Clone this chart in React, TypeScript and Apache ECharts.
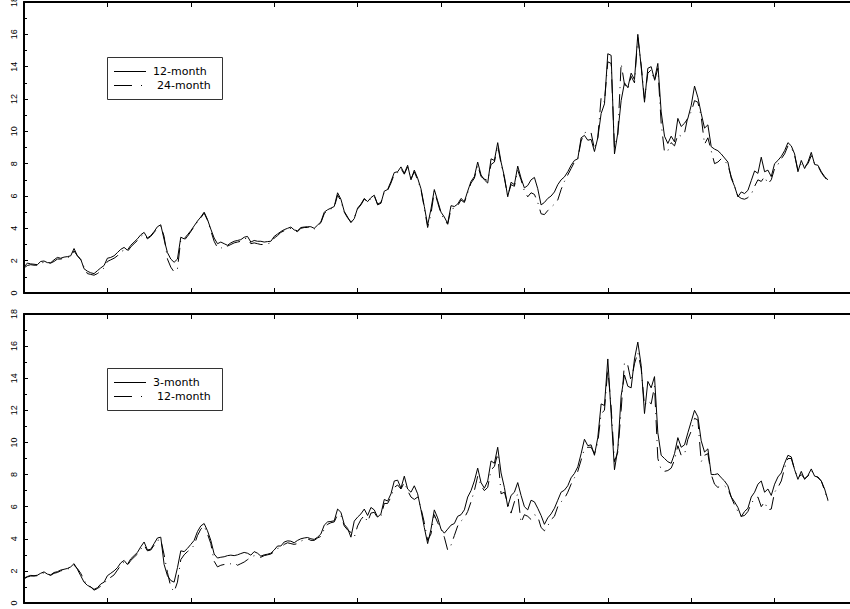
import { useEffect, useRef } from "react";
import * as echarts from "echarts";

// month index since start of sample (every 2nd month)
const months = Array.from({ length: 242 }, (_, i) => i * 2);

const topLegend = ["12-month", "24-month"];
const bottomLegend = ["3-month", "12-month"];

// Top panel: 12-month (solid)
const top12 = [
  1.6, 1.85, 1.8, 1.78, 1.75, 1.95, 1.98, 1.88, 1.87, 2.05,
  2.2, 2.15, 2.22, 2.25, 2.3, 2.75, 2.3, 2.1, 1.5, 1.35,
  1.25, 1.2, 1.38, 1.55, 1.7, 2.15, 2.2, 2.3, 2.5, 2.7,
  2.82, 2.65, 2.95, 3.15, 3.35, 3.6, 3.75, 3.4, 3.55, 3.8,
  4.1, 4.22, 3.3, 2.5, 2.1, 1.9, 2.1, 3.45, 3.35, 3.6,
  3.85, 4.15, 4.45, 4.7, 5.0, 4.55, 3.95, 3.4, 3.05, 3.15,
  3.05, 2.95, 3.1, 3.2, 3.25, 3.3, 3.45, 3.5, 3.15, 3.25,
  3.2, 3.2, 3.15, 3.18, 3.2, 3.5, 3.65, 3.8, 3.92, 4.0,
  4.08, 3.9, 3.85, 4.05, 4.08, 4.1, 4.1, 4.0, 4.2, 4.4,
  5.0, 5.15, 5.25, 5.35, 6.2, 5.8, 5.05, 4.7, 4.35, 4.6,
  5.25, 5.5, 5.85, 5.65, 5.9, 6.05, 5.45, 5.55, 6.3, 6.4,
  6.9, 7.45, 7.5, 7.8, 7.4, 7.9, 7.0, 7.6, 7.1, 6.45,
  5.35, 4.2, 5.2, 6.4, 5.7, 5.0, 4.7, 4.3, 5.4, 5.35,
  5.5, 5.85, 5.65, 6.3, 6.9, 7.2, 8.1, 7.3, 7.0, 6.8,
  8.3, 8.2, 9.3, 8.1, 7.2, 5.95, 6.85, 6.7, 7.85, 7.1,
  6.5, 6.65, 7.0, 7.15, 6.45, 5.45, 5.6, 5.85, 6.0, 6.25,
  6.7, 7.0, 7.18, 7.5, 7.9, 8.2, 8.3, 9.6, 9.75, 9.45,
  9.5, 8.75, 9.6, 11.1, 11.7, 14.8, 14.7, 8.6, 9.9, 11.9,
  13.0, 12.7, 13.6, 13.2, 16.0, 14.0, 11.8, 13.9, 14.0, 13.2,
  14.2, 11.2, 9.7, 9.25, 9.7, 9.35, 10.8, 10.3, 10.5, 10.8,
  11.6, 12.8, 12.1, 11.1, 10.2, 10.4, 9.05, 8.9, 8.8, 8.6,
  8.35, 8.1, 7.1, 6.6, 5.95, 6.25, 6.15, 6.35, 6.95, 7.55,
  7.4, 8.4, 7.5, 7.6, 7.2, 8.0, 8.2, 8.45, 8.8, 9.3,
  9.1, 8.6, 7.5, 8.2, 7.7, 8.1, 8.7, 7.95, 7.9, 7.5,
  7.2, 7.0,
];

// Top panel: 24-month (dash-dot)
const top24 = [
  1.55, 1.7, 1.75, 1.72, 1.72, 1.85, 1.9, 1.85, 1.85, 1.95,
  2.1, 2.1, 2.15, 2.2, 2.25, 2.6, 2.3, 2.05, 1.6, 1.2,
  1.15, 1.1, 1.2, 1.35, 1.55, 1.95, 2.05, 2.15, 2.3, 2.55,
  2.65, 2.55, 2.85, 3.05, 3.25, 3.5, 3.65, 3.35, 3.5, 3.75,
  4.0, 4.15, 3.5, 2.1, 1.6, 1.3, 1.5, 3.3, 3.25, 3.5,
  3.8, 4.1, 4.4, 4.65, 4.95, 4.5, 3.85, 3.2, 2.8, 2.75,
  2.95, 2.9, 3.0, 3.1, 3.15, 3.2, 3.35, 3.4, 3.05, 3.1,
  3.05, 3.0, 3.0, 3.05, 3.1, 3.4, 3.55, 3.75, 3.85, 3.95,
  4.0, 3.85, 3.8, 4.0, 4.05, 4.05, 4.05, 3.95, 4.15, 4.35,
  4.9, 5.1, 5.2, 5.3, 6.05, 5.7, 5.0, 4.65, 4.4, 4.65,
  5.2, 5.45, 5.8, 5.6, 5.85, 6.0, 5.5, 5.6, 6.25, 6.35,
  6.8, 7.35, 7.45, 7.7, 7.35, 7.8, 7.05, 7.5, 7.0, 6.4,
  5.25, 4.05, 4.9, 6.3, 5.6, 4.9, 4.55, 4.25, 5.2, 5.25,
  5.4, 5.75, 5.6, 6.2, 6.8, 7.1, 7.9, 7.2, 7.05, 6.95,
  7.95, 8.1, 9.1, 8.0, 7.1, 6.0, 6.7, 6.6, 7.6, 7.0,
  6.3, 5.95, 6.2, 6.1, 5.6, 4.9, 4.85, 5.1, 5.3, 5.5,
  5.75, 6.4, 6.9, 7.3, 7.7, 8.1, 8.3, 9.4, 9.9, 10.0,
  9.9, 8.9, 9.6, 12.1, 11.8, 14.3, 14.2, 9.0, 9.8, 14.2,
  12.9, 12.6, 13.4, 13.0, 15.8, 14.1, 12.0, 13.6, 13.8, 13.1,
  13.9, 10.5, 8.7, 8.8, 9.3, 9.1, 9.8, 9.7, 9.9, 10.9,
  11.2, 11.9, 11.8, 10.9, 9.2, 9.6, 8.8, 8.0, 8.1, 8.3,
  8.2, 7.9, 7.2, 6.6, 6.0, 5.85, 5.8, 5.9, 6.1, 6.6,
  7.0, 6.9, 7.2, 6.75, 7.0, 7.7, 7.95, 8.3, 8.6, 9.1,
  9.0, 8.5, 7.6, 8.0, 7.8, 8.0, 8.5, 8.0, 7.85, 7.45,
  7.15, 6.95,
];

// Bottom panel: 3-month (solid)
const bottom3 = [
  1.55, 1.65, 1.72, 1.7, 1.73, 1.85, 1.94, 1.8, 1.75, 1.9,
  1.95, 2.05, 2.1, 2.15, 2.25, 2.45, 2.1, 1.7, 1.3, 1.1,
  1.0, 0.85, 0.95, 1.18, 1.3, 1.7, 1.85, 2.0, 2.2, 2.5,
  2.65, 2.4, 2.75, 2.95, 3.15, 3.5, 3.8, 3.3, 3.35, 3.7,
  4.05, 4.1, 2.4, 1.7, 1.4, 1.3, 2.2, 3.25, 3.2, 3.4,
  3.65, 3.9, 4.45, 4.8, 4.95, 4.5, 3.9, 3.05, 2.8, 2.85,
  2.88, 2.95, 2.98, 2.95, 3.0, 3.08, 3.15, 3.1, 2.98, 3.2,
  3.1, 2.92, 3.0, 3.04, 3.1, 3.3, 3.55, 3.55, 3.8, 3.87,
  3.85, 3.75, 3.9, 4.0, 4.05, 4.08, 4.0, 3.96, 4.1, 4.3,
  4.85, 5.05, 5.08, 5.12, 5.85, 5.65, 4.9, 4.65, 4.1, 5.1,
  5.35, 5.55, 5.85, 5.45, 5.95, 5.8, 5.35, 5.55, 6.45, 6.35,
  6.8, 7.6, 7.65, 7.15, 7.9, 7.1, 6.9, 7.3, 6.8, 5.8,
  4.7, 3.7, 4.6, 5.8, 5.3, 4.6, 4.35, 4.6, 4.85, 4.95,
  5.4, 5.5, 5.8, 6.6, 7.0, 7.6, 8.4, 7.5, 7.15, 7.6,
  8.85, 8.7, 9.7, 8.1, 7.2, 6.0, 6.7, 6.9, 7.5, 6.7,
  6.0, 5.8, 6.4, 6.3, 5.9, 5.45, 4.9, 5.3, 5.55, 5.9,
  6.4, 6.9, 7.03, 7.3, 7.8, 8.07, 8.48, 9.3, 10.2, 9.8,
  9.85, 9.2, 10.3, 12.4, 12.3, 15.2, 11.8, 8.3, 9.6, 12.9,
  14.2, 13.5, 13.4, 15.2, 16.25, 14.8, 11.8, 13.8, 13.4, 14.1,
  10.6, 9.2, 9.0, 8.8, 8.7, 9.3, 10.3, 9.7, 9.85, 10.6,
  11.3, 12.0, 11.6, 10.1, 9.4, 9.6, 8.0, 8.0, 8.05, 7.8,
  7.6, 7.3, 6.6, 6.3, 5.95, 5.38, 5.7, 5.9, 6.6, 6.9,
  7.4, 7.6, 6.9, 7.1, 6.7, 7.4, 7.85, 8.1, 8.7, 9.2,
  9.1, 8.3, 7.7, 8.2, 7.7, 7.95, 8.35, 7.9, 7.85, 7.6,
  7.1, 6.4,
];

// Bottom panel: 12-month (dash-dot)
const bottom12 = [
  1.5, 1.62, 1.68, 1.68, 1.7, 1.8, 1.88, 1.78, 1.72, 1.85,
  1.9, 2.0, 2.05, 2.1, 2.2, 2.35, 2.15, 1.85, 1.45, 1.05,
  1.0, 0.8, 0.9, 1.05, 1.2, 1.5, 1.6, 1.75, 2.05, 2.35,
  2.55, 2.35, 2.65, 2.85, 3.05, 3.35, 3.6, 3.25, 3.3, 3.6,
  3.9, 3.95, 3.0, 1.9, 1.0, 0.7, 1.3, 2.7, 3.0, 3.2,
  3.35, 3.6, 4.2, 4.6, 4.8, 4.3, 3.7, 2.6, 2.25, 2.35,
  2.4, 2.35, 2.45, 2.5, 2.35, 2.45, 2.55, 2.7, 2.85, 2.95,
  2.85, 2.85, 2.95, 3.0, 3.05, 3.2, 3.4, 3.45, 3.65, 3.75,
  3.7, 3.65, 3.7, 3.85, 3.95, 4.0, 3.9, 3.9, 4.05, 4.15,
  4.6, 4.9, 5.0, 5.05, 5.5, 5.45, 4.8, 4.55, 4.4, 4.1,
  4.8, 5.2, 5.45, 5.05, 5.6, 5.65, 5.3, 5.4, 6.2, 6.2,
  6.6, 7.2, 7.35, 7.1, 7.5, 7.0, 6.6, 6.45, 6.6, 5.9,
  5.0, 3.9, 4.3, 5.5, 5.0, 4.6, 4.1, 3.3, 3.6, 4.2,
  4.8, 5.1, 5.3, 5.7, 6.3, 7.0, 7.9, 7.3, 7.0, 7.2,
  8.3, 8.5, 9.3, 6.8, 6.9, 6.2, 5.6, 6.3, 6.8, 5.0,
  5.5, 5.4, 5.2, 5.5, 5.4, 4.7, 4.5, 4.8, 5.2, 5.4,
  6.0, 6.3, 6.5, 6.9, 7.4, 7.8, 8.2, 8.9, 9.6, 9.7,
  9.7, 9.3, 10.0, 11.8, 12.0, 14.6, 12.2, 8.8, 9.4, 12.0,
  15.0, 14.8, 13.8, 14.9, 15.6, 14.6, 12.3, 12.6, 12.4, 13.5,
  9.0, 8.3, 8.2, 8.25, 8.4, 8.9, 9.8, 9.2, 9.25, 10.2,
  10.7, 11.5, 11.4, 8.8, 9.2, 9.3, 8.0, 7.4, 7.2, 7.3,
  7.3, 7.1, 6.6, 6.1, 5.7, 5.4, 5.45, 5.7, 6.2, 6.5,
  6.6, 6.0, 6.3, 5.8, 5.85, 6.9, 7.2, 7.6, 8.4, 9.0,
  9.0, 8.3, 7.8, 8.0, 7.75, 7.9, 8.25, 7.95, 7.8, 7.6,
  7.0, 6.35,
];

const FONT = "'Liberation Sans', Arial, Helvetica, sans-serif";
const LEGEND_FONT = "'DejaVu Sans', Verdana, sans-serif";
const DASH = [14, 6, 1, 6];
// the chart canvas starts above the visible page so the top "18" label is cut like the original
const SHIFT = 20;

const pairs = (vals: number[]) => vals.map((v, i) => [months[i], v]);

const axisLine = { show: true, onZero: false, lineStyle: { color: "#000", width: 2 } };

const xAxisFor = (gridIndex: number, position: string) => ({
  type: "value",
  gridIndex,
  position,
  min: 0,
  max: 500,
  interval: 50,
  axisLine,
  axisTick: { show: true, inside: true, length: 5, lineStyle: { color: "#000", width: 1 } },
  axisLabel: { show: false },
  splitLine: { show: false },
});

const yAxisFor = (gridIndex: number) => ({
  type: "value",
  gridIndex,
  min: 0,
  max: 18,
  interval: 2,
  axisLine,
  axisTick: { show: true, inside: true, length: 4, lineStyle: { color: "#000", width: 1 } },
  minorTick: { show: true, splitNumber: 2, length: 3, lineStyle: { color: "#000", width: 1 } },
  axisLabel: {
    rotate: 90,
    fontSize: 9,
    color: "#000",
    fontFamily: FONT,
    margin: 6,
    align: "center",
    verticalAlign: "bottom",
    hideOverlap: false,
  },
  splitLine: { show: false },
  minorSplitLine: { show: false },
});

const legendBox = (x: number, y: number, labels: string[]) => [
  {
    type: "rect",
    shape: { x: x + 0.5, y: y + 0.5, width: 115, height: 42 },
    style: { fill: "#fff", stroke: "#333", lineWidth: 1 },
    z: 100,
  },
  {
    type: "line",
    shape: { x1: x + 7, y1: y + 14.5, x2: x + 39, y2: y + 14.5 },
    style: { stroke: "#000", lineWidth: 1 },
    z: 101,
  },
  {
    type: "text",
    x: x + 46,
    y: y + 14,
    style: { text: labels[0], font: `11px ${LEGEND_FONT}`, fill: "#000", verticalAlign: "middle" },
    z: 101,
  },
  {
    type: "line",
    shape: { x1: x + 7, y1: y + 28.5, x2: x + 39, y2: y + 28.5 },
    style: { stroke: "#000", lineWidth: 1, lineDash: [18, 9, 1, 9] },
    z: 101,
  },
  {
    type: "text",
    x: x + 50,
    y: y + 28,
    style: { text: labels[1], font: `11px ${LEGEND_FONT}`, fill: "#000", verticalAlign: "middle" },
    z: 101,
  },
];

export default function App() {
  const ref = useRef<HTMLDivElement>(null);

  useEffect(() => {
    if (!ref.current) return;
    const chart = echarts.init(ref.current, null, { renderer: "svg" });
    const solid = { color: "#000", width: 1 };
    const dashed = { color: "#000", width: 1, type: DASH };
    chart.setOption({
      animation: false,
      backgroundColor: "#fff",
      textStyle: { fontFamily: FONT },
      grid: [
        { left: 24, top: 2 + SHIFT, width: 834, height: 291 },
        { left: 24, top: 314 + SHIFT, width: 834, height: 289 },
      ],
      xAxis: [xAxisFor(0, "bottom"), xAxisFor(0, "top"), xAxisFor(1, "bottom"), xAxisFor(1, "top")],
      yAxis: [yAxisFor(0), yAxisFor(1)],
      series: [
        { name: topLegend[0], type: "line", xAxisIndex: 0, yAxisIndex: 0, data: pairs(top12), symbol: "none", lineStyle: solid, z: 3 },
        { name: topLegend[1], type: "line", xAxisIndex: 0, yAxisIndex: 0, data: pairs(top24), symbol: "none", lineStyle: dashed, z: 2 },
        { name: bottomLegend[0], type: "line", xAxisIndex: 2, yAxisIndex: 1, data: pairs(bottom3), symbol: "none", lineStyle: solid, z: 3 },
        { name: bottomLegend[1], type: "line", xAxisIndex: 2, yAxisIndex: 1, data: pairs(bottom12), symbol: "none", lineStyle: dashed, z: 2 },
      ],
      graphic: [...legendBox(107, 57 + SHIFT, topLegend), ...legendBox(107, 368 + SHIFT, bottomLegend)],
    });
    return () => chart.dispose();
  }, []);

  return (
    <div style={{ position: "fixed", left: 0, top: 0, width: 850, height: 609, overflow: "hidden", background: "#fff" }}>
      <div ref={ref} style={{ position: "absolute", left: 0, top: -SHIFT, width: 870, height: 609 + SHIFT }} />
    </div>
  );
}
